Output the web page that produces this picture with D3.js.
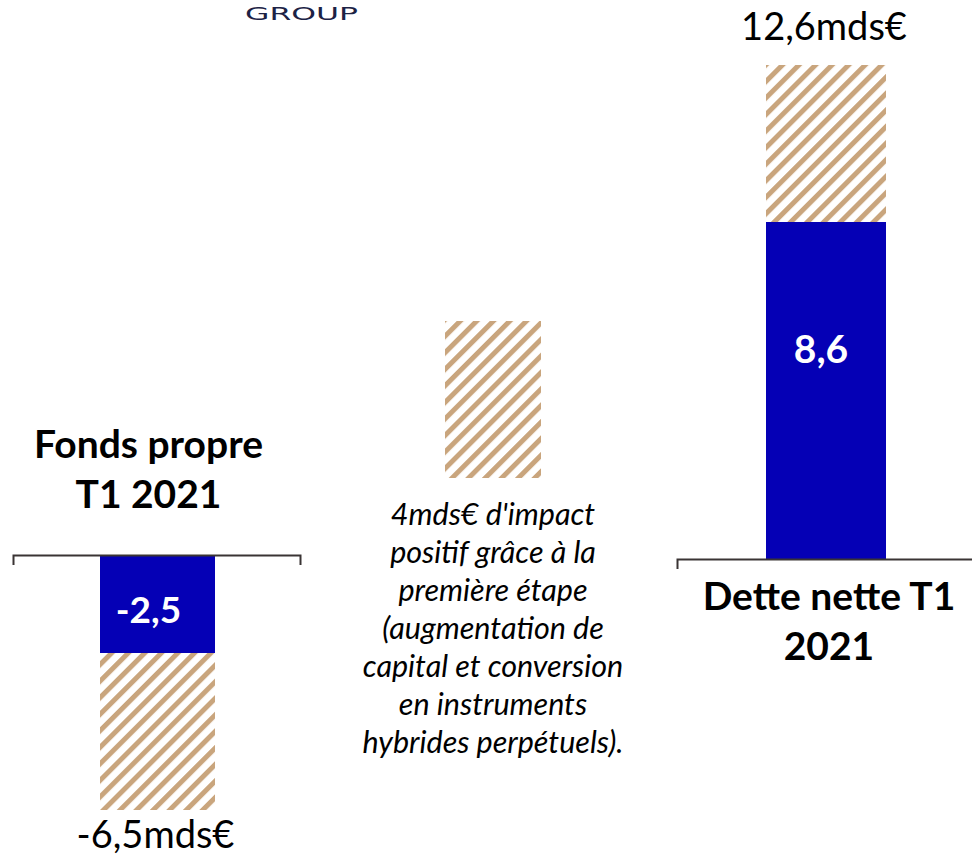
<!DOCTYPE html>
<html lang="fr">
<head>
<meta charset="utf-8">
<script src="https://cdn.jsdelivr.net/npm/d3@7"></script>
<style>
  html, body { margin: 0; padding: 0; background: #fff; }
  svg { display: block; }
</style>
</head>
<body>
<svg id="chart" width="972" height="861"></svg>
<script>
// Données (milliards d'euros)
const categories   = ["Fonds propre T1 2021", "Impact première étape", "Dette nette T1 2021"];
const baseValues   = [-2.5, 0, 8.6];     // barre pleine
const impactValues = [-4.0, 4.0, 4.0];   // impact hachuré, empilé sur la barre pleine
const baseLabels   = ["-2,5", "", "8,6"];
const totalLabels  = ["-6,5mds€", "", "12,6mds€"];
const titleLines   = [["Fonds propre", "T1 2021"], [], ["Dette nette T1", "2021"]];
const noteLines    = [
  "4mds€ d'impact",
  "positif grâce à la",
  "première étape",
  "(augmentation de",
  "capital et conversion",
  "en instruments",
  "hybrides perpétuels)."
];

// Mise en page de chaque panneau
const PX_PER_UNIT = 39.2;
const layout = [
  { x0: 100, x1: 215, base: 555, axis: [13, 300],  labelDx: -9, labelDy: 68,  labelSize: 37 },
  { x0: 445, x1: 541, base: 478, axis: null },
  { x0: 766, x1: 886, base: 559, axis: [677, 990], labelDx: -5, labelDy: 141, labelSize: 39 }
];

const BLUE = "#0500B5";
const TAN  = "#C9A57D";
const svg = d3.select("#chart");

// Motif hachuré diagonal
const defs = svg.append("defs");
const pat = defs.append("pattern")
  .attr("id", "hatch")
  .attr("patternUnits", "userSpaceOnUse")
  .attr("width", 11.7).attr("height", 11.7)
  .attr("patternTransform", "rotate(45)");
pat.append("rect").attr("width", 11.7).attr("height", 11.7).attr("fill", "#fff");
pat.append("rect").attr("x", 0).attr("y", 0).attr("width", 5).attr("height", 11.7).attr("fill", TAN);

// Logo
svg.append("text")
  .attr("x", 245).attr("y", 20)
  .attr("textLength", 113).attr("lengthAdjust", "spacingAndGlyphs")
  .attr("font-family", "'DejaVu Sans', sans-serif")
  .attr("font-size", 18).attr("fill", "#1c2245")
  .text("GROUP");

categories.forEach((cat, i) => {
  const L = layout[i];
  const y = d3.scaleLinear().domain([0, 1]).range([L.base, L.base - PX_PER_UNIT]);
  const x = d3.scaleBand().domain([cat]).range([L.x0, L.x1]).padding(0);
  const g = svg.append("g").attr("class", "panel");
  const cx = x(cat) + x.bandwidth() / 2;

  const b = baseValues[i];
  const t = b + impactValues[i];

  // Barre pleine
  if (b !== 0) {
    g.append("rect")
      .attr("x", x(cat)).attr("width", x.bandwidth())
      .attr("y", y(Math.max(0, b))).attr("height", Math.abs(y(b) - y(0)))
      .attr("fill", BLUE);
  }
  // Impact hachuré
  g.append("rect")
    .attr("x", x(cat)).attr("width", x.bandwidth())
    .attr("y", y(Math.max(b, t))).attr("height", Math.abs(y(t) - y(b)))
    .attr("fill", "url(#hatch)")
    .attr("shape-rendering", "crispEdges");

  // Axe de base
  if (L.axis) {
    const ax = d3.scaleLinear().domain([0, 1]).range(L.axis);
    const axis = g.append("g")
      .attr("transform", `translate(0,${L.base})`)
      .call(d3.axisBottom(ax).tickValues([]).tickSizeOuter(10));
    axis.select(".domain").attr("stroke", "#3a3434").attr("stroke-width", 2);
  }

  // Valeur dans la barre
  if (baseLabels[i]) {
    const topY = y(Math.max(0, b));
    g.append("text")
      .attr("x", cx + L.labelDx).attr("y", topY + L.labelDy)
      .attr("text-anchor", "middle")
      .attr("font-family", "Lato, sans-serif").attr("font-weight", 700)
      .attr("font-size", L.labelSize).attr("fill", "#fff")
      .text(baseLabels[i]);
  }

  // Total
  if (totalLabels[i]) {
    const ty = t < 0 ? y(t) + 38 : y(t) - 25;
    g.append("text")
      .attr("x", cx - 2).attr("y", ty)
      .attr("text-anchor", "middle")
      .attr("font-family", "Lato, sans-serif")
      .attr("font-size", 38).attr("fill", "#000")
      .text(totalLabels[i]);
  }

  // Titre du panneau
  if (titleLines[i].length) {
    const above = b < 0;
    const firstY = above ? L.base - 97 : L.base + 51;
    const tt = g.append("text")
      .attr("text-anchor", "middle")
      .attr("font-family", "Lato, sans-serif").attr("font-weight", 700)
      .attr("font-size", 39).attr("fill", "#000");
    titleLines[i].forEach((line, k) => {
      tt.append("tspan")
        .attr("x", above ? cx - 9 : cx + 3)
        .attr("y", firstY + k * 50)
        .text(line);
    });
  }
});

// Note explicative sous la barre centrale
const note = svg.append("text")
  .attr("text-anchor", "middle")
  .attr("font-family", "Lato, sans-serif").attr("font-style", "italic")
  .attr("font-size", 30.5).attr("fill", "#000");
noteLines.forEach((line, k) => {
  note.append("tspan").attr("x", 493).attr("y", 525 + k * 38).text(line);
});
</script>
</body>
</html>
